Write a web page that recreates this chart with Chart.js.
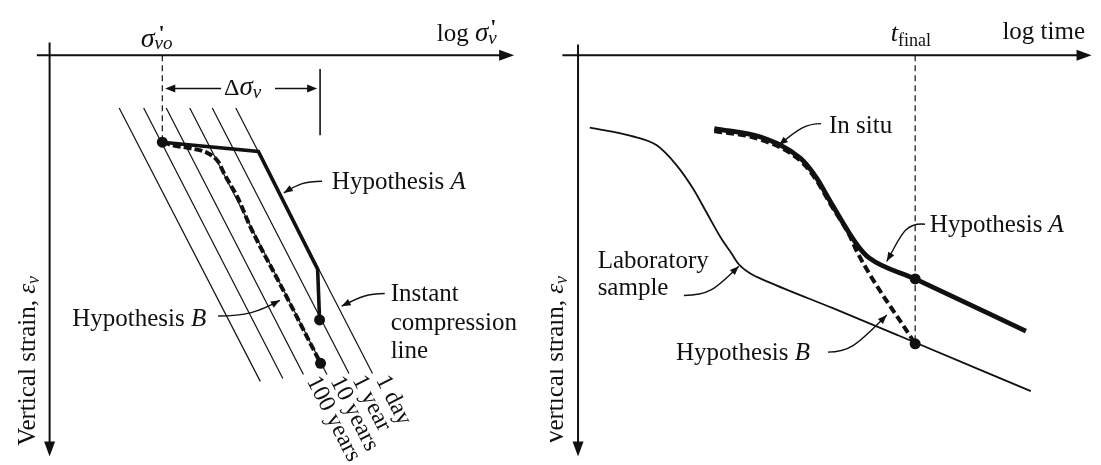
<!DOCTYPE html>
<html>
<head>
<meta charset="utf-8">
<script src="https://cdn.jsdelivr.net/npm/chart.js@4.4.0/dist/chart.umd.min.js"></script>
<style>
  html, body { margin: 0; padding: 0; background: #fff; }
  #wrap { position: relative; width: 1101px; height: 465px; overflow: hidden; }
  #wrap canvas { position: absolute; top: 0; }
</style>
</head>
<body>
<div id="wrap">
  <canvas id="stressChart" width="550" height="465" style="left:0"></canvas>
  <canvas id="timeChart" width="551" height="465" style="left:550px"></canvas>
</div>
<script>
// ---- left panel: vertical strain vs log effective stress (schematic units, axes cross at 0,0)
const isoLabels = ['', '', '100 years', '10 years', '1 year', '1 day'];
const isoTopX = [7.1, 9.6, 11.9, 14.3, 16.6, 19.0];
const isoTopY = 5.4;
const isoEndX = [21.5, 23.8, 25.9, 28.3, 30.55, 32.95];
const isoEndY = [33.4, 33.1, 32.7, 32.7, 32.6, 32.6];

const hypAStressX = [11.5, 21.3, 27.35, 27.55];
const hypAStressY = [8.9, 9.85, 21.9, 27.1];
const hypBStressX = [11.5, 12.5, 14.5, 16.2, 17.2, 17.85, 19.2, 20.5, 23.5, 27.65];
const hypBStressY = [8.9, 9.2, 9.55, 10.05, 10.9, 12.2, 14.6, 17.6, 23.4, 31.55];
const deltaSigmaEnd = 27.6;

// ---- right panel: vertical strain vs log time
const labTimeX = [1.2, 5.4, 8.0, 10.0, 11.7, 13.0, 14.7, 15.6, 16.4, 17.5, 19.4, 26.0, 32.7, 46.2];
const labStrain = [7.4, 8.25, 9.2, 11.2, 13.6, 15.9, 18.9, 20.2, 21.4, 22.3, 23.2, 25.9, 28.7, 34.4];
const situTimeX = [13.9, 18.7, 22.7, 24.3, 25.7, 27.7, 28.7, 29.7, 34.4, 45.7];
const situStrain = [7.5, 8.4, 10.55, 12.5, 14.9, 18.25, 19.7, 20.75, 22.9, 28.25];
const hypBTimeX = [13.9, 18.7, 22.7, 24.3, 25.7, 27.7, 28.5, 34.4];
const hypBStrain = [7.75, 8.65, 10.8, 12.75, 15.15, 18.45, 20.2, 29.55];
const tFinal = 34.4;

const INK = '#111';
const SERIF = '"Liberation Serif", "DejaVu Serif", serif';
const font = (size, italic, bold) => (italic ? 'italic ' : '') + (bold ? 'bold ' : '') + size + 'px ' + SERIF;
const pts = (xs, ys) => xs.map((x, i) => ({ x: x, y: ys[i] }));

function line(data, width, extra) {
  return Object.assign({
    data: data, showLine: true, borderColor: INK, backgroundColor: INK,
    borderWidth: width, pointRadius: 0, tension: 0
  }, extra || {});
}

function markers(data) {
  return { data: data, showLine: false, pointRadius: 5.5, pointBackgroundColor: INK,
           pointBorderColor: INK, pointBorderWidth: 0, order: 0 };
}

// text made of runs with their own font / offset (for subscripts and primes)
function rich(ctx, x, y, runs) {
  let cx = x;
  runs.forEach(r => {
    ctx.font = font(r.s, r.i, r.b);
    ctx.fillText(r.t, cx + (r.dx || 0), y + (r.dy || 0));
    if (!r.keep) cx += ctx.measureText(r.t).width;
  });
}

function head(ctx, tip, from, len, half) {
  const a = Math.atan2(tip[1] - from[1], tip[0] - from[0]);
  ctx.save();
  ctx.translate(tip[0], tip[1]);
  ctx.rotate(a);
  ctx.beginPath();
  ctx.moveTo(0, 0);
  ctx.lineTo(-len, -half);
  ctx.lineTo(-len, half);
  ctx.closePath();
  ctx.fill();
  ctx.restore();
}

function leader(ctx, p) {
  ctx.lineWidth = 1.4;
  ctx.beginPath();
  ctx.moveTo(p[0][0], p[0][1]);
  ctx.bezierCurveTo(p[1][0], p[1][1], p[2][0], p[2][1], p[3][0], p[3][1]);
  ctx.stroke();
  head(ctx, p[3], p[2], 9, 3.5);
}

function axes(ctx, P, xFrom, xTo, yFrom, yTo) {
  ctx.lineWidth = 2;
  const h0 = P(xFrom, 0), h1 = P(xTo, 0), v0 = P(0, yFrom), v1 = P(0, yTo);
  ctx.beginPath();
  ctx.moveTo(h0[0], h0[1]); ctx.lineTo(h1[0] - 8, h1[1]);
  ctx.moveTo(v0[0], v0[1]); ctx.lineTo(v1[0], v1[1] - 8);
  ctx.stroke();
  head(ctx, h1, h0, 15, 5.5);
  head(ctx, v1, v0, 15, 5.5);
}

function strainLabel(ctx, P, x, y) {
  const p = P(x, y);
  ctx.save();
  ctx.translate(p[0], p[1]);
  ctx.rotate(-Math.PI / 2);
  rich(ctx, 0, 0, [{ t: 'Vertical strain, ', s: 25 }, { t: 'ε', s: 25, i: true },
                   { t: 'v', s: 18, i: true, dy: 4 }]);
  ctx.restore();
}

function mapper(chart) {
  const sx = chart.scales.x, sy = chart.scales.y;
  return (x, y) => [sx.getPixelForValue(x), sy.getPixelForValue(y)];
}

const stressNotes = {
  id: 'stressNotes',
  beforeDatasetsDraw(chart) {
    const ctx = chart.ctx, P = mapper(chart);
    ctx.save();
    ctx.strokeStyle = INK; ctx.fillStyle = INK;
    axes(ctx, P, -1.3, 47.4, -1.3, 41.1);
    ctx.restore();
  },
  afterDraw(chart) {
    const ctx = chart.ctx, P = mapper(chart);
    ctx.save();
    ctx.strokeStyle = INK; ctx.fillStyle = INK;
    ctx.textBaseline = 'alphabetic'; ctx.textAlign = 'left';

    let p = P(9.3, -0.9);
    rich(ctx, p[0], p[1], [{ t: 'σ', s: 28, i: true }, { t: "'", s: 22, b: true, dx: 4, dy: -7, keep: true },
                           { t: 'vo', s: 19, i: true, dy: 2 }]);
    p = P(39.5, -1.5);
    rich(ctx, p[0], p[1], [{ t: 'log ', s: 25 }, { t: 'σ', s: 27, i: true },
                           { t: "'", s: 22, b: true, dx: 2, dy: -7, keep: true }, { t: 'v', s: 19, i: true, dy: 3 }]);

    // Δσv span between the initial stress and the final one
    const a0 = P(hypAStressX[0] + 0.3, 3.4), a1 = P(17.5, 3.4), b0 = P(23.0, 3.4), b1 = P(deltaSigmaEnd - 0.3, 3.4);
    ctx.lineWidth = 1.4;
    ctx.beginPath();
    ctx.moveTo(a0[0] + 6, a0[1]); ctx.lineTo(a1[0], a1[1]);
    ctx.moveTo(b0[0], b0[1]); ctx.lineTo(b1[0] - 6, b1[1]);
    ctx.stroke();
    head(ctx, a0, a1, 10, 4);
    head(ctx, b1, b0, 10, 4);
    p = P(17.8, 4.1);
    rich(ctx, p[0], p[1], [{ t: 'Δ', s: 24 }, { t: 'σ', s: 27, i: true }, { t: 'v', s: 19, i: true, dy: 3 }]);
    const t0 = P(deltaSigmaEnd, 1.4), t1 = P(deltaSigmaEnd, 8.2);
    ctx.lineWidth = 1.6;
    ctx.beginPath(); ctx.moveTo(t0[0], t0[1]); ctx.lineTo(t1[0], t1[1]); ctx.stroke();

    // time labels along the instant compression lines
    ctx.font = font(24);
    isoLabels.forEach((lab, i) => {
      if (!lab) return;
      const s = P(isoTopX[i], isoTopY), e = P(isoEndX[i], isoEndY[i]);
      const ang = Math.atan2(e[1] - s[1], e[0] - s[0]);
      ctx.save();
      ctx.translate(e[0] + Math.cos(ang) * 7, e[1] + Math.sin(ang) * 7);
      ctx.rotate(ang);
      ctx.fillText(lab, 0, 0);
      ctx.restore();
    });

    p = P(28.8, 13.7);
    rich(ctx, p[0], p[1], [{ t: 'Hypothesis ', s: 25 }, { t: 'A', s: 25, i: true }]);
    leader(ctx, [P(27.8, 12.9), P(26.0, 12.9), P(25.3, 13.2), P(23.9, 14.1)]);

    ctx.font = font(25);
    p = P(34.8, 25.2); ctx.fillText('Instant', p[0], p[1]);
    p = P(34.8, 28.1); ctx.fillText('compression', p[0], p[1]);
    p = P(34.8, 31.0); ctx.fillText('line', p[0], p[1]);
    leader(ctx, [P(34.2, 24.4), P(32.5, 24.4), P(31.7, 24.7), P(29.8, 25.7)]);

    p = P(2.3, 27.7);
    rich(ctx, p[0], p[1], [{ t: 'Hypothesis ', s: 25 }, { t: 'B', s: 25, i: true }]);
    leader(ctx, [P(17.2, 26.7), P(20.0, 26.7), P(21.3, 26.3), P(23.5, 25.1)]);

    strainLabel(ctx, P, -1.5, 40.0);
    ctx.restore();
  }
};

const timeNotes = {
  id: 'timeNotes',
  beforeDatasetsDraw(chart) {
    const ctx = chart.ctx, P = mapper(chart);
    ctx.save();
    ctx.strokeStyle = INK; ctx.fillStyle = INK;
    axes(ctx, P, -1.6, 52.4, -1.1, 41.1);
    ctx.restore();
  },
  afterDraw(chart) {
    const ctx = chart.ctx, P = mapper(chart);
    ctx.save();
    ctx.strokeStyle = INK; ctx.fillStyle = INK;
    ctx.textBaseline = 'alphabetic'; ctx.textAlign = 'left';

    let p = P(31.9, -1.5);
    rich(ctx, p[0], p[1], [{ t: 't', s: 26, i: true }, { t: 'final', s: 18, dy: 5 }]);
    p = P(43.3, -1.7);
    rich(ctx, p[0], p[1], [{ t: 'log time', s: 25 }]);

    p = P(25.6, 8.0);
    rich(ctx, p[0], p[1], [{ t: 'In situ', s: 25 }]);
    leader(ctx, [P(24.8, 7.0), P(23.3, 7.0), P(22.5, 7.5), P(20.5, 9.2)]);

    p = P(35.9, 18.1);
    rich(ctx, p[0], p[1], [{ t: 'Hypothesis ', s: 25 }, { t: 'A', s: 25, i: true }]);
    leader(ctx, [P(35.4, 17.3), P(33.2, 17.1), P(32.9, 18.7), P(31.5, 21.1)]);

    ctx.font = font(25);
    p = P(2.0, 21.8); ctx.fillText('Laboratory', p[0], p[1]);
    p = P(2.0, 24.6); ctx.fillText('sample', p[0], p[1]);
    leader(ctx, [P(10.8, 24.6), P(13.2, 24.6), P(13.9, 24.1), P(16.4, 21.6)]);

    p = P(10.0, 31.2);
    rich(ctx, p[0], p[1], [{ t: 'Hypothesis ', s: 25 }, { t: 'B', s: 25, i: true }]);
    leader(ctx, [P(25.5, 30.4), P(27.5, 30.4), P(28.3, 29.9), P(31.5, 26.6)]);

    strainLabel(ctx, P, -1.5, 40.0);
    ctx.restore();
  }
};

const baseOptions = (xmin, xmax) => ({
  responsive: false,
  devicePixelRatio: 1,
  animation: false,
  layout: { padding: 0 },
  plugins: { legend: { display: false }, tooltip: { enabled: false } },
  scales: {
    x: { type: 'linear', display: false, min: xmin, max: xmax },
    y: { type: 'linear', display: false, reverse: true, min: -5.1, max: 41.4 }
  }
});

const stressSets = [
  markers([{ x: hypAStressX[0], y: hypAStressY[0] },
           { x: hypAStressX[3], y: hypAStressY[3] },
           { x: hypBStressX[9], y: hypBStressY[9] }]),
  line(pts(hypAStressX, hypAStressY), 3.6, { order: 1 }),
  line(pts(hypBStressX, hypBStressY), 4, { order: 2, borderDash: [8, 3], cubicInterpolationMode: 'monotone' }),
  line([{ x: hypAStressX[0], y: 0 }, { x: hypAStressX[0], y: hypAStressY[0] }], 1.2, { order: 3, borderDash: [6, 4] })
];
isoTopX.forEach((x, i) => {
  stressSets.push(line([{ x: x, y: isoTopY }, { x: isoEndX[i], y: isoEndY[i] }], 1.2, { order: 4 }));
});

new Chart(document.getElementById('stressChart').getContext('2d'), {
  type: 'scatter',
  data: { datasets: stressSets },
  options: baseOptions(-4.5, 50.5),
  plugins: [stressNotes]
});

new Chart(document.getElementById('timeChart').getContext('2d'), {
  type: 'scatter',
  data: {
    datasets: [
      markers([{ x: tFinal, y: situStrain[8] }, { x: tFinal, y: hypBStrain[7] }]),
      line(pts(situTimeX, situStrain), 4.8, { order: 1, cubicInterpolationMode: 'monotone' }),
      line(pts(hypBTimeX, hypBStrain), 4, { order: 2, borderDash: [8, 4], cubicInterpolationMode: 'monotone' }),
      line(pts(labTimeX, labStrain), 1.8, { order: 3, cubicInterpolationMode: 'monotone' }),
      line([{ x: tFinal, y: 0 }, { x: tFinal, y: hypBStrain[7] }], 1.2, { order: 4, borderDash: [6, 4] })
    ]
  },
  options: baseOptions(-2.3, 52.8),
  plugins: [timeNotes]
});
</script>
</body>
</html>
